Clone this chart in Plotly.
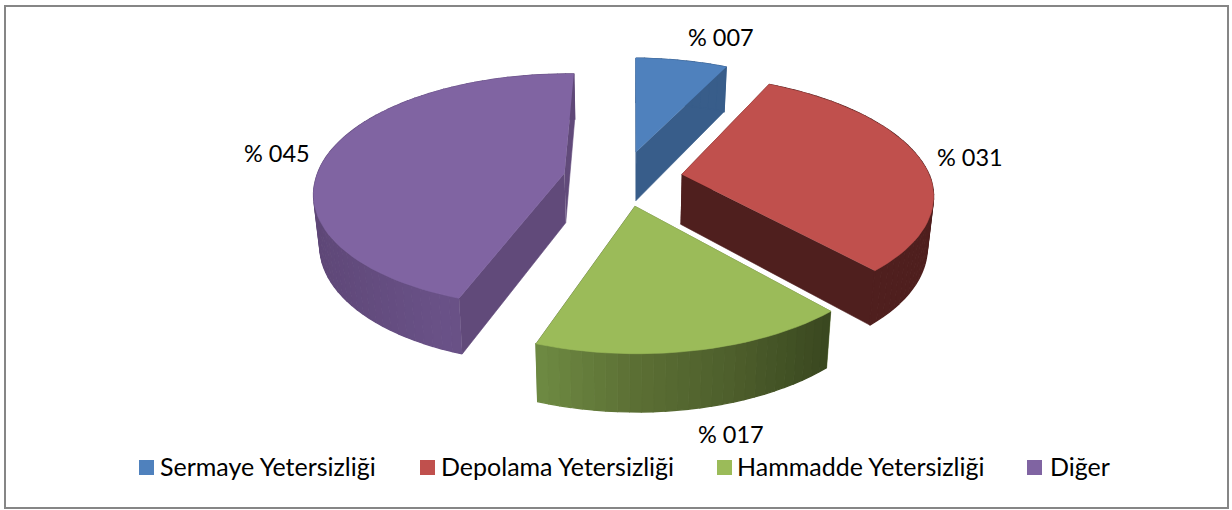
import math
import plotly.graph_objects as go

# ---- data ----
categories = ["Sermaye Yetersizliği", "Depolama Yetersizliği", "Hammadde Yetersizliği", "Diğer"]
values = [7, 31, 17, 45]

# ---- style ----
top_colors = ["#4f81bd", "#c0504d", "#9bbb59", "#8064a2"]
cut_colors = ["#385d8a", "#4f1f1e", "#5a6e33", "#614a7a"]
# outer wall colour ramp (left to right on screen)
wall_ramps = [
    ["#385d8a", "#385d8a"],
    ["#4f1f1e", "#4f1f1e"],
    ["#6f8b43", "#5c7035", "#4e5f2c", "#3a4820"],
    ["#5f4878", "#6a5288", "#5f4878"],
]

# ---- projection of the tilted disc ----
CX, CY = 623.0, 178.0
RX, RY = 248.5, 115.5
PERSP = 0.152
SKEW = -4.0
EXPLODE = 0.24
ROTATION = math.radians(1.5)
FONT = "Lato"
TXT = "#000000"


def project(u, v, down=False):
    s = 1.0 / (1.0 + PERSP * v)
    x = RX * u * s
    y = -RY * v * s
    if down:
        x *= 0.98
        y += 14 + 36 * s
    return CX + x + SKEW * max(v, 0), CY + y


def hex_rgb(h):
    return tuple(int(h[i:i + 2], 16) for i in (1, 3, 5))


def ramp_color(ramp, t):
    t = min(max(t, 0), 1) * (len(ramp) - 1)
    i = min(int(t), len(ramp) - 2)
    a, b = hex_rgb(ramp[i]), hex_rgb(ramp[i + 1])
    f = t - i
    return "rgb(%d,%d,%d)" % tuple(a[k] + (b[k] - a[k]) * f for k in range(3))


fig = go.Figure()


def poly(xs, ys, color, lw=0.6):
    fig.add_trace(go.Scatter(
        x=xs, y=ys, mode="lines", fill="toself", fillcolor=color,
        line=dict(color=color, width=lw), hoverinfo="skip", showlegend=False))


total = sum(values)
cum = 0
for val, top, cut, ramp in zip(values, top_colors, cut_colors, wall_ramps):
    a0 = cum / total * 2 * math.pi + ROTATION
    cum += val
    a1 = cum / total * 2 * math.pi + ROTATION
    mid = (a0 + a1) / 2
    ax, ay = EXPLODE * math.sin(mid), EXPLODE * math.cos(mid)
    n = max(int(val * 1.6), 8)
    angles = [a0 + (a1 - a0) * i / n for i in range(n + 1)]
    rim = [(ax + math.sin(t), ay + math.cos(t)) for t in angles]

    tops = [project(u, v) for u, v in rim]
    bots = [project(u, v, True) for u, v in rim]

    # cut faces from the apex to the two rim ends
    apex_t, apex_b = project(ax, ay), project(ax, ay, True)
    for k in (0, -1):
        poly([apex_t[0], tops[k][0], bots[k][0], apex_b[0]],
             [apex_t[1], tops[k][1], bots[k][1], apex_b[1]], cut)

    # outer wall as a strip of shaded quads
    xmin = min(p[0] for p in tops)
    xmax = max(p[0] for p in tops)
    for i in range(n):
        xm = (tops[i][0] + tops[i + 1][0]) / 2
        col = ramp_color(ramp, (xm - xmin) / max(xmax - xmin, 1))
        poly([tops[i][0], tops[i + 1][0], bots[i + 1][0], bots[i][0]],
             [tops[i][1], tops[i + 1][1], bots[i + 1][1], bots[i][1]], col, 1.3)

    # top face
    poly([apex_t[0]] + [p[0] for p in tops], [apex_t[1]] + [p[1] for p in tops], top)

# ---- legend row ----
legend_x = [146.5, 427.5, 724.5, 1034.5]
legend_text_x = [160, 441, 737, 1050]
legend_y = 467.5
legend_text_y = 466
fig.add_trace(go.Scatter(
    x=legend_x, y=[legend_y] * 4, mode="markers",
    marker=dict(symbol="square", size=15, color=top_colors),
    hoverinfo="skip", showlegend=False))
for name, tx in zip(categories, legend_text_x):
    fig.add_annotation(x=tx, y=legend_text_y, xref="x", yref="y", text=name, xanchor="left",
                       showarrow=False, xshift=-2,
                       font=dict(family=FONT, size=25, color=TXT))

# ---- value labels ----
label_x = [721, 970, 731, 277]
label_y = [37, 157, 434, 153]
for val, lx, ly in zip(values, label_x, label_y):
    fig.add_annotation(x=lx, y=ly, xref="x", yref="y", text=f"% {val:03d}",
                       showarrow=False, font=dict(family=FONT, size=23.5, color=TXT))

fig.add_shape(type="rect", xref="x", yref="y", x0=5, y0=6, x1=1228, y1=508,
              line=dict(color="#868686", width=2))

fig.update_layout(
    width=1232, height=510, margin=dict(l=0, r=0, t=0, b=0),
    paper_bgcolor="white", plot_bgcolor="white", showlegend=False,
    xaxis=dict(range=[0, 1232], visible=False, fixedrange=True),
    yaxis=dict(range=[510, 0], visible=False, fixedrange=True),
)

fig.write_html("out.html", config={"displayModeBar": False},
               post_script="document.body.style.margin='0';document.body.style.overflow='hidden';")
